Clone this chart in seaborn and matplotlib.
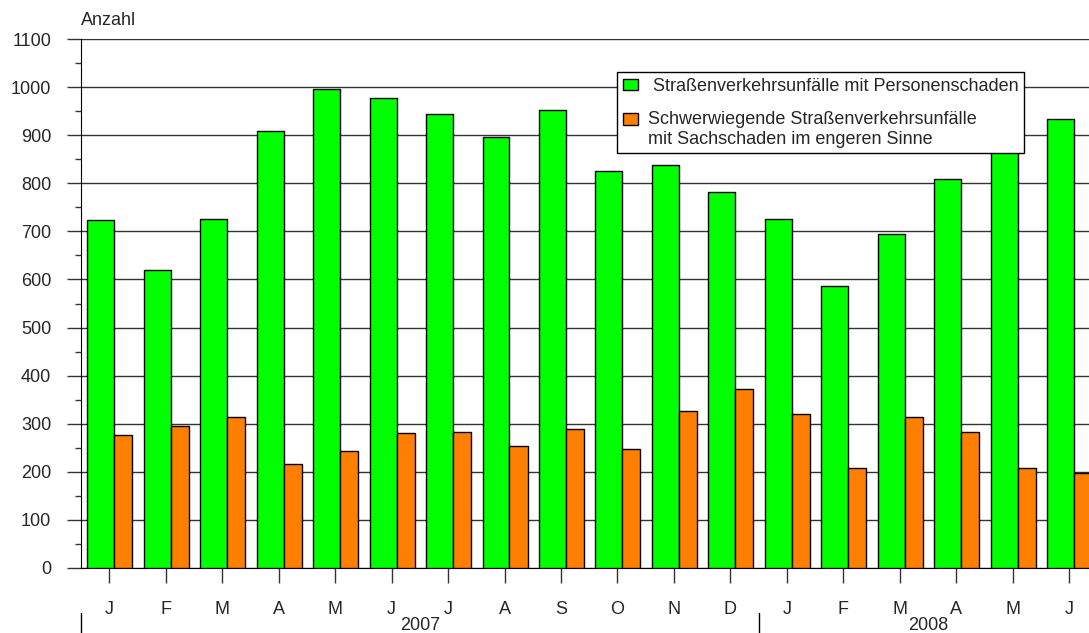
import numpy as np
import seaborn as sns
import matplotlib.pyplot as plt

# Monatswerte Juni 2007 - Juni 2008
monate = ['J', 'F', 'M', 'A', 'M', 'J', 'J', 'A', 'S', 'O', 'N', 'D',
          'J', 'F', 'M', 'A', 'M', 'J']
personenschaden = [723, 620, 726, 908, 995, 977, 944, 896, 952, 825, 838, 781,
                   725, 586, 694, 808, 870, 933]
sachschaden = [277, 295, 313, 216, 243, 280, 283, 254, 289, 247, 326, 372,
               321, 207, 315, 283, 207, 198]
jahre = ['2007', '2008']
jahr_monate = [12, 6]

label_p = ' Straßenverkehrsunfälle mit Personenschaden'
label_s = 'Schwerwiegende Straßenverkehrsunfälle\nmit Sachschaden im engeren Sinne'

sns.set_style("white")
plt.rcParams['font.family'] = ['Liberation Sans', 'DejaVu Sans']
plt.rcParams['font.size'] = 13

fig = plt.figure(figsize=(10.89, 6.33), dpi=100)
ax = fig.add_axes([81 / 1089, 65 / 633, 1 - 81 / 1089, 529 / 633])

idx = np.arange(len(monate))
sns.barplot(x=idx - 0.151, y=personenschaden, native_scale=True, width=0.478,
            color='#00ff00', saturation=1, edgecolor='black', linewidth=1,
            label=label_p, ax=ax, zorder=3)
sns.barplot(x=idx + 0.2475, y=sachschaden, native_scale=True, width=0.319,
            color='#ff8000', saturation=1, edgecolor='black', linewidth=1,
            label=label_s, ax=ax, zorder=3)

ax.set_xlim(-0.5, 17.35)
ax.set_ylim(0, 1100)

# y-Achse
ax.set_yticks(np.arange(0, 1101, 100))
ax.set_yticks(np.arange(50, 1100, 100), minor=True)
ax.tick_params(axis='y', which='major', length=10, width=1, color='#333333',
               pad=11.5, labelsize=13, left=True)
ax.tick_params(axis='y', which='minor', length=4.3, width=1, color='#333333', left=True)
ax.grid(axis='y', which='major', color='#333333', linewidth=1, zorder=0)
ax.set_axisbelow(True)

# x-Achse
ax.set_xticks(idx)
ax.set_xticklabels(monate)
ax.tick_params(axis='x', which='major', length=11, width=1, color='#333333',
               pad=13, labelsize=13, bottom=True)
ax.set_xlabel('')

for s in ['top', 'right']:
    ax.spines[s].set_visible(False)
ax.spines['left'].set_color('black')
ax.spines['bottom'].set_color('black')

# Jahresbeschriftung
start = -0.5
for jahr, n in zip(jahre, jahr_monate):
    ax.plot([start, start], [-0.085, -0.125], color='black', lw=1,
            transform=ax.get_xaxis_transform(), clip_on=False)
    ax.text(start + n / 2, -0.108, jahr, ha='center', va='center', fontsize=13,
            transform=ax.get_xaxis_transform())
    start += n

ax.text(0, 1.035, 'Anzahl', ha='left', va='center', fontsize=13,
        transform=ax.transAxes)

leg = ax.legend(loc='upper left', bbox_to_anchor=(0.532, 0.9367), borderaxespad=0,
                fancybox=False, framealpha=1, edgecolor='black', fontsize=13,
                handlelength=0.85, handleheight=0.62, handletextpad=0.55,
                borderpad=0.3, labelspacing=0.9)
leg.get_frame().set_linewidth(1)
# Kästchen der zweiten Legende auf Höhe der ersten Zeile
h2 = leg.legend_handles[1]
h2.set_y(h2.get_y() + 7.5)

fig.savefig('out.png', dpi=100)
